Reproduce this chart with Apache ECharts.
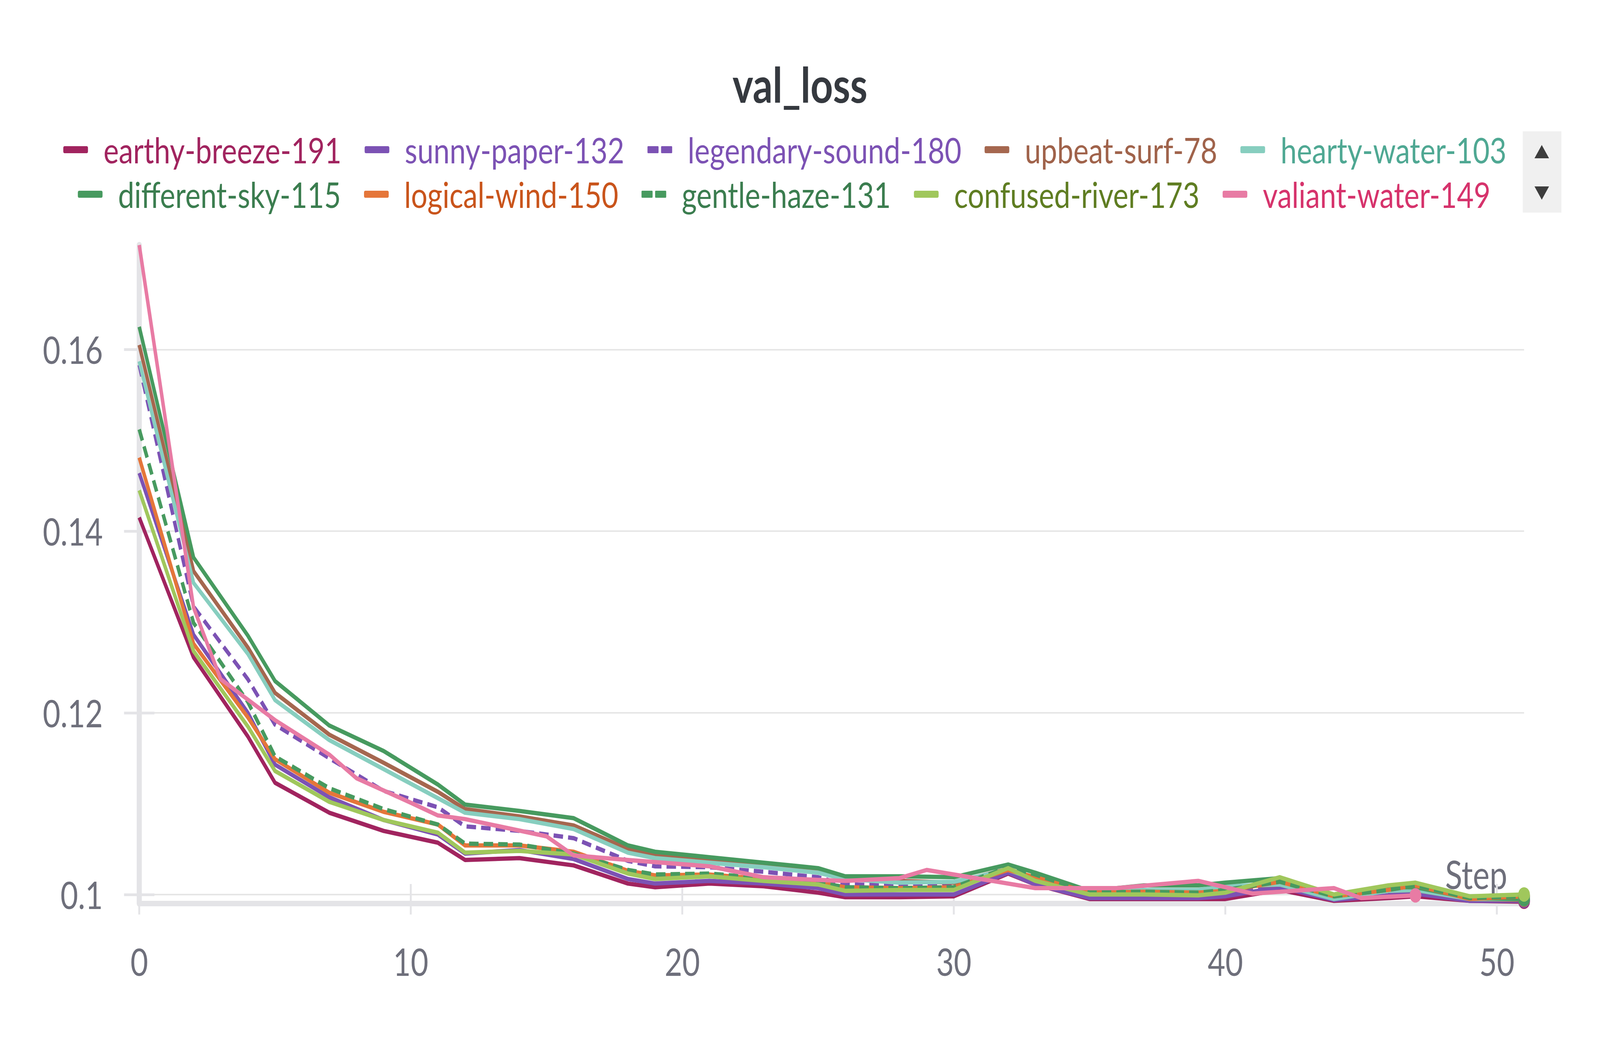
<!DOCTYPE html>
<html>
<head>
<meta charset="utf-8">
<script src="https://cdn.jsdelivr.net/npm/echarts@6/dist/echarts.min.js"></script>
<style>
html,body{margin:0;padding:0;background:#fff;overflow:hidden;}
#chart{position:absolute;left:0;top:0;width:5056px;height:2656px;transform-origin:0 0;}
</style>
</head>
<body>
<div id="chart"></div>
<script>
// ---------- data ----------
const title = 'val_loss';
const xTicks = [0, 10, 20, 30, 40, 50];
const yTicks = [0.1, 0.12, 0.14, 0.16];
const steps = [0,2,4,5,7,9,11,12,14,16,18,19,21,23,25,26,28,30,32,33,35,37,39,40,42,44,46,47,49,51];

const earthyBreeze191 = [0.1415,0.1261,0.1174,0.1123,0.1090,0.1070,0.1057,0.1038,0.1040,0.1032,0.1012,0.1008,0.1012,0.1009,0.1002,0.0997,0.0997,0.0998,0.1023,0.1011,0.0995,0.0995,0.0995,0.0995,0.1005,0.0993,0.0996,0.0998,0.0993,0.0992];
const sunnyPaper132 = [0.1464,0.1286,0.1200,0.1143,0.1107,0.1082,0.1066,0.1045,0.1049,0.1039,0.1017,0.1012,0.1015,0.1012,0.1007,0.1000,0.1000,0.1000,0.1024,0.1011,0.0996,0.0996,0.0996,0.0998,0.1008,0.0994,0.0999,0.1001,0.0993,0.0993];
const legendarySound180 = [0.1583,0.1317,0.1237,0.1187,0.1150,0.1114,0.1096,0.1075,0.1070,0.1062,0.1037,0.1031,0.1030,0.1025,0.1019,0.1011,0.1010,0.1010,0.1027,0.1015,0.0999,0.0999,0.0999,0.1003,0.1009,0.0995,0.1002,0.1003,0.0994,0.0994];
const upbeatSurf78 = [0.1605,0.1356,0.1272,0.1222,0.1176,0.1145,0.1113,0.1094,0.1086,0.1076,0.1050,0.1043,0.1038,0.1032,0.1025,0.1018,0.1015,0.1013,0.1028,0.1018,0.1002,0.1004,0.1004,0.1008,0.1011,0.0996,0.1004,0.1005,0.0995,0.0994];
const heartyWater103 = [0.1587,0.1343,0.1265,0.1214,0.1170,0.1138,0.1106,0.1090,0.1083,0.1072,0.1046,0.1040,0.1035,0.1030,0.1024,0.1017,0.1013,0.1014,0.1027,0.1017,0.1001,0.1005,0.1005,0.1009,0.1011,0.0995,0.1004,0.1005,0.0995,0.0995];
const differentSky115 = [0.1625,0.1371,0.1285,0.1235,0.1186,0.1158,0.1121,0.1099,0.1092,0.1084,0.1054,0.1047,0.1041,0.1035,0.1029,0.1020,0.1020,0.1019,0.1033,0.1024,0.1004,0.1010,0.1010,0.1013,0.1018,0.1000,0.1008,0.1008,0.0996,0.0995];
const logicalWind150 = [0.1481,0.1276,0.1195,0.1149,0.1112,0.1091,0.1077,0.1054,0.1054,0.1047,0.1026,0.1021,0.1022,0.1017,0.1013,0.1008,0.1007,0.1008,0.1027,0.1019,0.1002,0.1003,0.1002,0.1004,0.1014,0.0998,0.1005,0.1010,0.0995,0.0998];
const gentleHaze131 = [0.1512,0.1299,0.1212,0.1152,0.1117,0.1094,0.1077,0.1056,0.1055,0.1045,0.1027,0.1022,0.1023,0.1018,0.1013,0.1008,0.1007,0.1008,0.1030,0.1022,0.1002,0.1003,0.1002,0.1005,0.1014,0.0998,0.1005,0.1010,0.0996,0.0998];
const confusedRiver173 = [0.1445,0.1268,0.1185,0.1136,0.1102,0.1082,0.1068,0.1046,0.1048,0.1044,0.1023,0.1017,0.1020,0.1015,0.1011,0.1004,0.1005,0.1005,0.1029,0.1015,0.1000,0.1000,0.0999,0.1002,0.1019,0.1000,0.1010,0.1013,0.0998,0.1000];
const valiantSteps = [0,2,3,5,7,8,10,11,12,15,16,18,21,23,25,26,28,29,33,36,39,41,44,45,47];
const valiantWater149 = [0.1715,0.1316,0.1237,0.1192,0.1154,0.1128,0.1101,0.1087,0.1083,0.1064,0.1043,0.1038,0.1031,0.1019,0.1016,0.1015,0.1018,0.1027,0.1007,0.1007,0.1015,0.1001,0.1007,0.0996,0.0999];

const runs = [
  {name:'earthy-breeze-191',  x:steps, y:earthyBreeze191,  line:'#a1245f', text:'#a1245f', dashed:false, row:0},
  {name:'sunny-paper-132',    x:steps, y:sunnyPaper132,    line:'#7c52b4', text:'#7c52b4', dashed:false, row:0},
  {name:'legendary-sound-180',x:steps, y:legendarySound180,line:'#7c52b4', text:'#7c52b4', dashed:true,  row:0},
  {name:'upbeat-surf-78',     x:steps, y:upbeatSurf78,     line:'#a5674f', text:'#a0634b', dashed:false, row:0},
  {name:'hearty-water-103',   x:steps, y:heartyWater103,   line:'#87cebf', text:'#4fa893', dashed:false, row:0},
  {name:'different-sky-115',  x:steps, y:differentSky115,  line:'#479a5f', text:'#3b7d4f', dashed:false, row:1},
  {name:'logical-wind-150',   x:steps, y:logicalWind150,   line:'#e5763a', text:'#c9541b', dashed:false, row:1},
  {name:'gentle-haze-131',    x:steps, y:gentleHaze131,    line:'#479a5f', text:'#3b7d4f', dashed:true,  row:1},
  {name:'confused-river-173', x:steps, y:confusedRiver173, line:'#a0c75c', text:'#5f7d22', dashed:false, row:1},
  {name:'valiant-water-149',  x:valiantSteps, y:valiantWater149, line:'#e87ba4', text:'#d6336c', dashed:false, row:1}
];

// ---------- fit the 5056 x 2656 design into the actual window ----------
const el = document.getElementById('chart');
const kx = window.innerWidth / 5056, ky = window.innerHeight / 2656;
el.style.transform = 'scale(' + kx + ',' + ky + ')';

const FONT = 'Lato, "Noto Sans", sans-serif';
const TICK_COLOR = '#6e6f7b';
const AXIS_COLOR = '#e4e4e7';
const chart = echarts.init(el, null, {renderer: 'svg', width: 5056, height: 2656});

const series = runs.map(r => ({
  name: r.name,
  type: 'line',
  symbol: 'none',
  showSymbol: true,
  lineStyle: {color: r.line, width: 11, type: r.dashed ? [30, 16] : 'solid', cap: 'butt', join: 'round'},
  itemStyle: {color: r.line},
  emphasis: {disabled: true},
  data: r.x.map((s, i) => i === r.x.length - 1
    ? {value: [s, r.y[i]], symbol: 'circle', symbolSize: 37}
    : [s, r.y[i]])
}));

const DASH_ICON = 'path://M2,0H33Q35,0 35,2V16Q35,18 33,18H2Q0,18 0,16V2Q0,0 2,0Z M45,0H76Q78,0 78,2V16Q78,18 76,18H45Q43,18 43,16V2Q43,0 45,0Z';

function legendRow(row, left, centerY) {
  const lh = 112;
  return {
    data: runs.filter(r => r.row === row).map(r => ({
      name: r.name,
      icon: r.dashed ? DASH_ICON : 'roundRect',
      itemStyle: {color: r.line},
      textStyle: {color: r.text}
    })),
    top: centerY - lh / 2,
    left: left,
    orient: 'horizontal',
    padding: 0,
    itemWidth: 78,
    itemHeight: 18,
    itemGap: 73,
    selectedMode: false,
    textStyle: {fontSize: 91.5, fontFamily: FONT, lineHeight: lh, padding: [0, 0, 0, 44]}
  };
}

chart.setOption({
  animation: false,
  backgroundColor: '#ffffff',
  title: {
    text: title, left: 'center', top: 148,
    textStyle: {fontSize: 124, fontWeight: 'bold', color: '#35393f', fontFamily: FONT}
  },
  legend: [legendRow(0, 200, 383), legendRow(1, 246, 497)],
  graphic: [
    {type:'rect', shape:{x:4812, y:336, width:122, height:208}, style:{fill:'#f0f0f0'}},
    {type:'polygon', shape:{points:[[4872,371],[4895,405],[4849,405]]}, style:{fill:'#3d3d3d'}},
    {type:'polygon', shape:{points:[[4849,477],[4895,477],[4872,511]]}, style:{fill:'#3d3d3d'}}
  ],
  grid: {left: 440, right: 240, top: 627, bottom: 344, containLabel: false},
  xAxis: [{
    type: 'value', min: 0, max: 51,
    name: 'Step', nameLocation: 'end', nameGap: -53,
    nameTextStyle: {fontSize: 100, color: TICK_COLOR, fontFamily: FONT, align: 'right', verticalAlign: 'bottom', lineHeight: 100, padding: [0, 0, 26, 0]},
    axisLine: {show: true, onZero: false, lineStyle: {color: AXIS_COLOR, width: 14}},
    axisTick: {show: true, inside: true, length: 50, customValues: xTicks, lineStyle: {color: AXIS_COLOR, width: 6}},
    axisLabel: {show: true, customValues: xTicks, margin: 100, fontSize: 96, color: TICK_COLOR, fontFamily: FONT},
    splitLine: {show: false}
  }, {
    type: 'value', min: 0, max: 51, position: 'bottom',
    axisLine: {show: false},
    axisTick: {show: true, inside: false, length: 28, customValues: xTicks, lineStyle: {color: AXIS_COLOR, width: 6}},
    axisLabel: {show: false},
    splitLine: {show: false}
  }],
  yAxis: [{
    type: 'value', min: 0.099, max: 0.1715,
    axisLine: {show: true, onZero: false, lineStyle: {color: AXIS_COLOR, width: 16}},
    axisTick: {show: true, inside: false, length: 48, customValues: yTicks, lineStyle: {color: AXIS_COLOR, width: 7}},
    axisLabel: {show: true, customValues: yTicks, margin: 115, fontSize: 96, color: TICK_COLOR, fontFamily: FONT},
    splitLine: {show: true, lineStyle: {color: '#e6e6e6', width: 4}}
  }, {
    type: 'value', min: 0.099, max: 0.1715, position: 'left',
    axisLine: {show: false},
    axisTick: {show: true, inside: true, length: 48, customValues: yTicks, lineStyle: {color: AXIS_COLOR, width: 7}},
    axisLabel: {show: false},
    splitLine: {show: false}
  }],
  series: series
});
</script>
</body>
</html>
